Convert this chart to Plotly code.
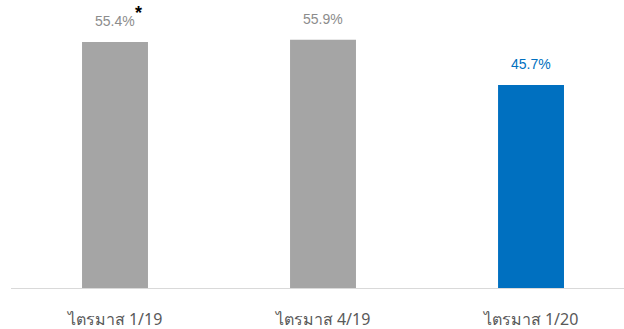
import plotly.graph_objects as go

quarters = ["ไตรมาส 1/19", "ไตรมาส 4/19", "ไตรมาส 1/20"]
ratios = [55.4, 55.9, 45.7]
bar_colors = ["#A5A5A5", "#A5A5A5", "#0070C0"]
label_colors = ["#8C8C8C", "#8C8C8C", "#0070C0"]
footnote_marks = ["*", "", ""]

fig = go.Figure(
    go.Bar(
        x=quarters,
        y=ratios,
        marker=dict(color=bar_colors, line=dict(width=0)),
        width=0.317,
        hoverinfo="skip",
    )
)

for q, v, c, mark in zip(quarters, ratios, label_colors, footnote_marks):
    fig.add_annotation(
        x=q, y=v, text=f"{v:.1f}%", showarrow=False,
        yshift=21, font=dict(family="Liberation Sans, Arial", size=14, color=c),
    )
    if mark:
        fig.add_annotation(
            x=q, y=v, text=f"<b>{mark}</b>", showarrow=False,
            yshift=29, xshift=23, font=dict(family="Liberation Sans, Arial", size=18, color="#000000"),
        )

fig.update_layout(
    width=624, height=329,
    margin=dict(l=11, r=0, t=0, b=41),
    paper_bgcolor="white", plot_bgcolor="white",
    showlegend=False,
    xaxis=dict(
        range=[-0.5, 2.447],
        automargin=False,
        showline=True, linecolor="#D9D9D9", linewidth=1,
        showgrid=False, ticks="",
        ticklabelstandoff=17,
        tickfont=dict(family="Noto Sans, DejaVu Sans, sans-serif", size=16, color="#595959"),
    ),
    yaxis=dict(
        range=[0, 64.86], visible=False, showgrid=False, zeroline=False,
    ),
)

fig.write_html("out.html")
